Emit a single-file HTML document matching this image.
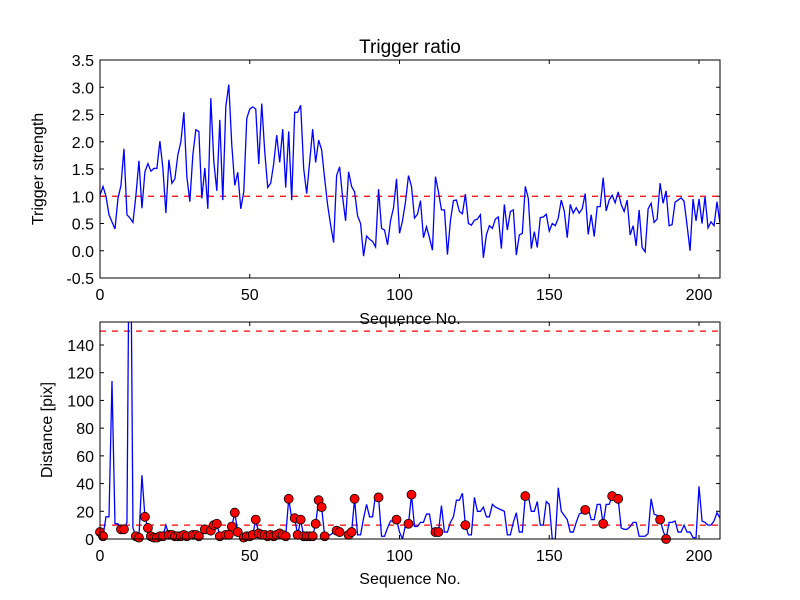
<!DOCTYPE html>
<html><head><meta charset="utf-8"><style>
html,body{margin:0;padding:0;background:#fff;}
svg{display:block;font-family:"Liberation Sans","DejaVu Sans",sans-serif;}
</style></head><body>
<svg id="chart" width="800" height="600" viewBox="0 0 800 600" xmlns="http://www.w3.org/2000/svg">
<rect x="0" y="0" width="800" height="600" fill="#ffffff"/>
<g id="top"></g>
<g id="bot"></g>
</svg>
<script>
const triggerStrength = [1.02,1.18,1.0,0.66,0.53,0.4,0.96,1.2,1.87,0.66,0.6,0.52,1.02,1.65,0.78,1.45,1.6,1.46,1.51,1.51,2.01,1.51,0.69,1.67,1.24,1.32,1.76,2.0,2.54,1.36,0.9,1.76,2.22,2.19,0.96,1.52,0.77,2.8,1.63,1.1,2.4,0.93,2.64,3.05,1.94,1.2,1.44,0.77,1.08,2.43,2.6,2.64,2.6,1.59,2.7,1.82,1.16,1.24,1.6,2.12,1.62,2.23,1.16,2.19,0.93,2.54,2.54,2.67,1.51,1.05,1.63,2.23,1.62,2.03,1.85,1.33,0.84,0.47,0.15,1.38,1.54,0.98,0.55,1.45,1.18,1.08,0.64,0.5,-0.1,0.27,0.21,0.17,0.07,1.13,0.41,0.38,0.11,0.55,0.79,1.32,0.32,0.55,0.9,1.38,1.18,0.6,0.67,0.92,0.24,0.44,0.24,0.01,1.36,1.08,0.75,0.75,-0.07,0.55,0.92,0.93,0.72,0.68,1.04,0.5,0.47,0.56,0.58,0.66,-0.13,0.29,0.46,0.41,0.58,0.62,0.04,0.85,0.38,0.72,0.75,-0.08,0.29,0.32,1.18,0.96,0.04,0.35,0.06,0.61,0.62,0.67,0.36,0.5,0.46,0.6,0.93,0.73,0.24,0.85,0.69,0.79,0.69,0.77,1.05,0.3,0.66,0.26,0.81,0.81,1.34,0.73,0.93,1.02,0.88,1.08,0.85,0.72,0.93,0.29,0.46,0.09,0.75,0.06,-0.02,0.77,0.87,0.52,0.58,1.24,0.87,1.1,0.46,0.48,0.89,0.93,0.97,0.91,0.47,0.0,0.95,0.55,0.95,0.5,0.99,0.42,0.53,0.46,0.9,0.5];
const distance = [5,2,16,16,114,11,11,7,7,12,300,8,2,1,46,16,8,2,1,1,2,2,10,3,3,2,2,2,3,2,2,3,3,2,3,7,6,6,10,11,2,2,3,3,9,19,5,1,1,2,2,3,14,4,3,3,2,3,2,3,4,3,2,29,15,15,3,14,2,2,2,2,11,28,23,2,3,3,5,6,5,4,3,3,5,29,3,3,15,25,16,16,32,30,2,2,8,13,13,14,5,0,10,11,32,9,9,12,12,18,18,5,5,5,24,5,5,12,16,28,28,33,10,3,3,30,20,20,23,16,16,25,23,22,21,20,3,3,12,19,5,5,31,31,20,20,27,10,10,27,25,0,0,37,20,17,14,5,5,12,18,19,21,22,14,14,25,25,11,25,25,31,31,29,8,7,7,9,12,12,2,2,2,4,29,18,17,14,6,0,12,12,13,5,5,10,5,5,1,1,38,13,12,10,10,13,19,15];
const xTicks = [0,50,100,150,200];
const topYTicks = [-0.5,0.0,0.5,1.0,1.5,2.0,2.5,3.0,3.5];
const botYTicks = [0,20,40,60,80,100,120,140];
const triggerThreshold = [1.0];
const distanceLimits = [10,150];

const NS="http://www.w3.org/2000/svg";
function mk(tag,attrs,parent){const e=document.createElementNS(NS,tag);for(const k in attrs)e.setAttribute(k,attrs[k]);parent.appendChild(e);return e;}
const X0=100,X1=720,XMAX=207;
function sx(v){return X0+(v/XMAX)*(X1-X0);}
function makeY(y0px,y1px,vmin,vmax){return v=>y0px-(v-vmin)/(vmax-vmin)*(y0px-y1px);}
const syT=makeY(278,60,-0.5,3.5);
const syB=makeY(539,322,0,156.6);

function panel(g,id,top,bot,sy,yTicks,fmt,clipId){
  const defs=mk('defs',{},g);
  const cp=mk('clipPath',{id:clipId},defs);
  mk('rect',{x:X0,y:top,width:X1-X0,height:bot-top},cp);
  // ticks
  xTicks.forEach(t=>{
    const x=sx(t);
    const a=mk('line',{x1:x,y1:bot,x2:x,y2:bot-4,stroke:'#000','stroke-width':1},g);
    
    
    mk('line',{x1:x,y1:top,x2:x,y2:top+4,stroke:'#000','stroke-width':1},g);
    const tx=mk('text',{x:x,y:bot+22,'text-anchor':'middle','font-size':16,fill:'#000'},g);
    tx.textContent=String(t);
    
    
  });
  yTicks.forEach(t=>{
    const y=sy(t);
    const a=mk('line',{x1:X0,y1:y,x2:X0+4,y2:y,stroke:'#000','stroke-width':1},g);
    
    
    mk('line',{x1:X1,y1:y,x2:X1-4,y2:y,stroke:'#000','stroke-width':1},g);
    const tx=mk('text',{x:X0-6,y:y+6,'text-anchor':'end','font-size':16,fill:'#000'},g);
    tx.textContent=fmt(t);
    
    
  });
  return cp;
}

// TOP
const gT=document.getElementById('top');
panel(gT,'t',60,278,syT,topYTicks,v=>v.toFixed(1),'clipT');
const cT=mk('g',{'clip-path':'url(#clipT)'},gT);
triggerThreshold.forEach(v=>{
  const l=mk('line',{x1:X0,x2:X1,y1:syT(v),y2:syT(v),stroke:'#ff0000','stroke-width':1.3,'stroke-dasharray':'6,6'},cT);
  
  
});
const pT=mk('polyline',{fill:'none',stroke:'#0000ff','stroke-width':1.3,points:triggerStrength.map((v,i)=>sx(i).toFixed(2)+','+syT(v).toFixed(2)).join(' ')},cT);


mk('rect',{x:X0,y:60,width:X1-X0,height:218,fill:'none',stroke:'#000','stroke-width':1},gT);
const title=mk('text',{x:410,y:53,'text-anchor':'middle','font-size':19,fill:'#000'},gT);
title.textContent='Trigger ratio';


const ylT=mk('text',{x:0,y:0,'text-anchor':'middle','font-size':16,fill:'#000',transform:'translate(43,169) rotate(-90)'},gT);
ylT.textContent='Trigger strength';


const xlT=mk('text',{x:410,y:324,'text-anchor':'middle','font-size':16,fill:'#000'},gT);
xlT.textContent='Sequence No.';



// BOTTOM
const gB=document.getElementById('bot');
panel(gB,'b',322,539,syB,botYTicks,v=>String(v),'clipB');
const cB=mk('g',{'clip-path':'url(#clipB)'},gB);
distanceLimits.forEach(v=>{
  const l=mk('line',{x1:X0,x2:X1,y1:syB(v),y2:syB(v),stroke:'#ff0000','stroke-width':1.3,'stroke-dasharray':'6,6'},cB);
  
  
});
const pB=mk('polyline',{fill:'none',stroke:'#0000ff','stroke-width':1.3,points:distance.map((v,i)=>sx(i).toFixed(2)+','+syB(v).toFixed(2)).join(' ')},cB);


const mg=mk('g',{},gB);
distance.forEach((v,i)=>{
  if(triggerStrength[i]>triggerThreshold[0]){
    const c=mk('circle',{cx:sx(i).toFixed(2),cy:syB(v).toFixed(2),r:4.5,fill:'#ff0000',stroke:'#000','stroke-width':0.8},mg);
    
    
  }
});
mk('rect',{x:X0,y:322,width:X1-X0,height:217,fill:'none',stroke:'#000','stroke-width':1},gB);
const ylB=mk('text',{x:0,y:0,'text-anchor':'middle','font-size':16,fill:'#000',transform:'translate(52,430) rotate(-90)'},gB);
ylB.textContent='Distance [pix]';


const xlB=mk('text',{x:410,y:584,'text-anchor':'middle','font-size':16,fill:'#000'},gB);
xlB.textContent='Sequence No.';


</script>
</body></html>
